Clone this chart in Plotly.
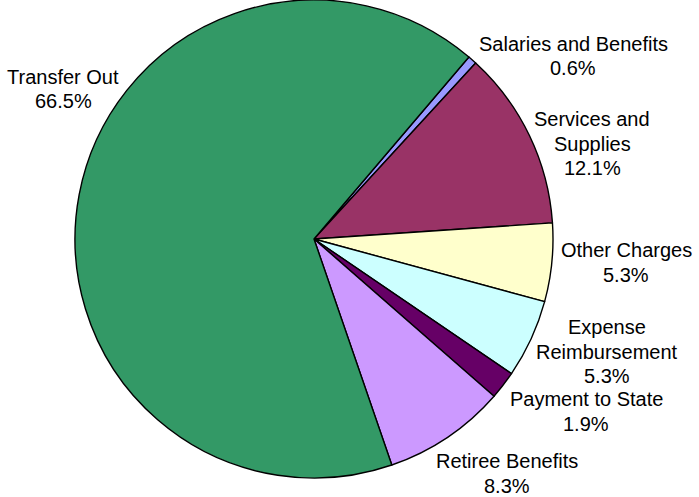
import plotly.graph_objects as go

labels = ["Salaries and Benefits", "Services and Supplies", "Other Charges",
          "Expense Reimbursement", "Payment to State", "Retiree Benefits", "Transfer Out"]
values = [0.6, 12.1, 5.3, 5.3, 1.9, 8.3, 66.5]
colors = ["#9999FF", "#993366", "#FFFFCC", "#CCFFFF", "#660066", "#CC99FF", "#339966"]
label_lines = [["Salaries and Benefits", "0.6%"],
               ["Services and", "Supplies", "12.1%"],
               ["Other Charges", "5.3%"],
               ["Expense", "Reimbursement", "5.3%"],
               ["Payment to State", "1.9%"],
               ["Retiree Benefits", "8.3%"],
               ["Transfer Out", "66.5%"]]
# centre x and first-line y of each label block (pixels from top-left)
label_pos = [(573, 44), (592, 119), (626, 250), (607, 327), (586, 399), (507, 461), (63, 77)]
LINE_STEP = 24.5

W, H = 699, 497
fig = go.Figure(go.Pie(
    labels=labels, values=values, sort=False, direction="clockwise", rotation=40.4,
    marker=dict(colors=colors, line=dict(color="black", width=1.4)),
    textinfo="none", hoverinfo="label+percent", showlegend=False,
    domain=dict(x=[74 / W, 554 / W], y=[19 / H, 1.0]),
))

for lines, (px, py) in zip(label_lines, label_pos):
    for i, t in enumerate(lines):
        fig.add_annotation(x=px / W, y=1 - (py + i * LINE_STEP) / H, xref="paper", yref="paper",
                           text=t, showarrow=False, xanchor="center", yanchor="middle",
                           align="center",
                           font=dict(family="Liberation Sans, Arial", size=20, color="black"))

fig.update_layout(width=W, height=H, margin=dict(l=0, r=0, t=0, b=0),
                  paper_bgcolor="white", plot_bgcolor="white")
fig.write_html("out.html", config={"displayModeBar": False},
               post_script="document.body.style.margin='0';document.body.style.overflow='hidden';")
